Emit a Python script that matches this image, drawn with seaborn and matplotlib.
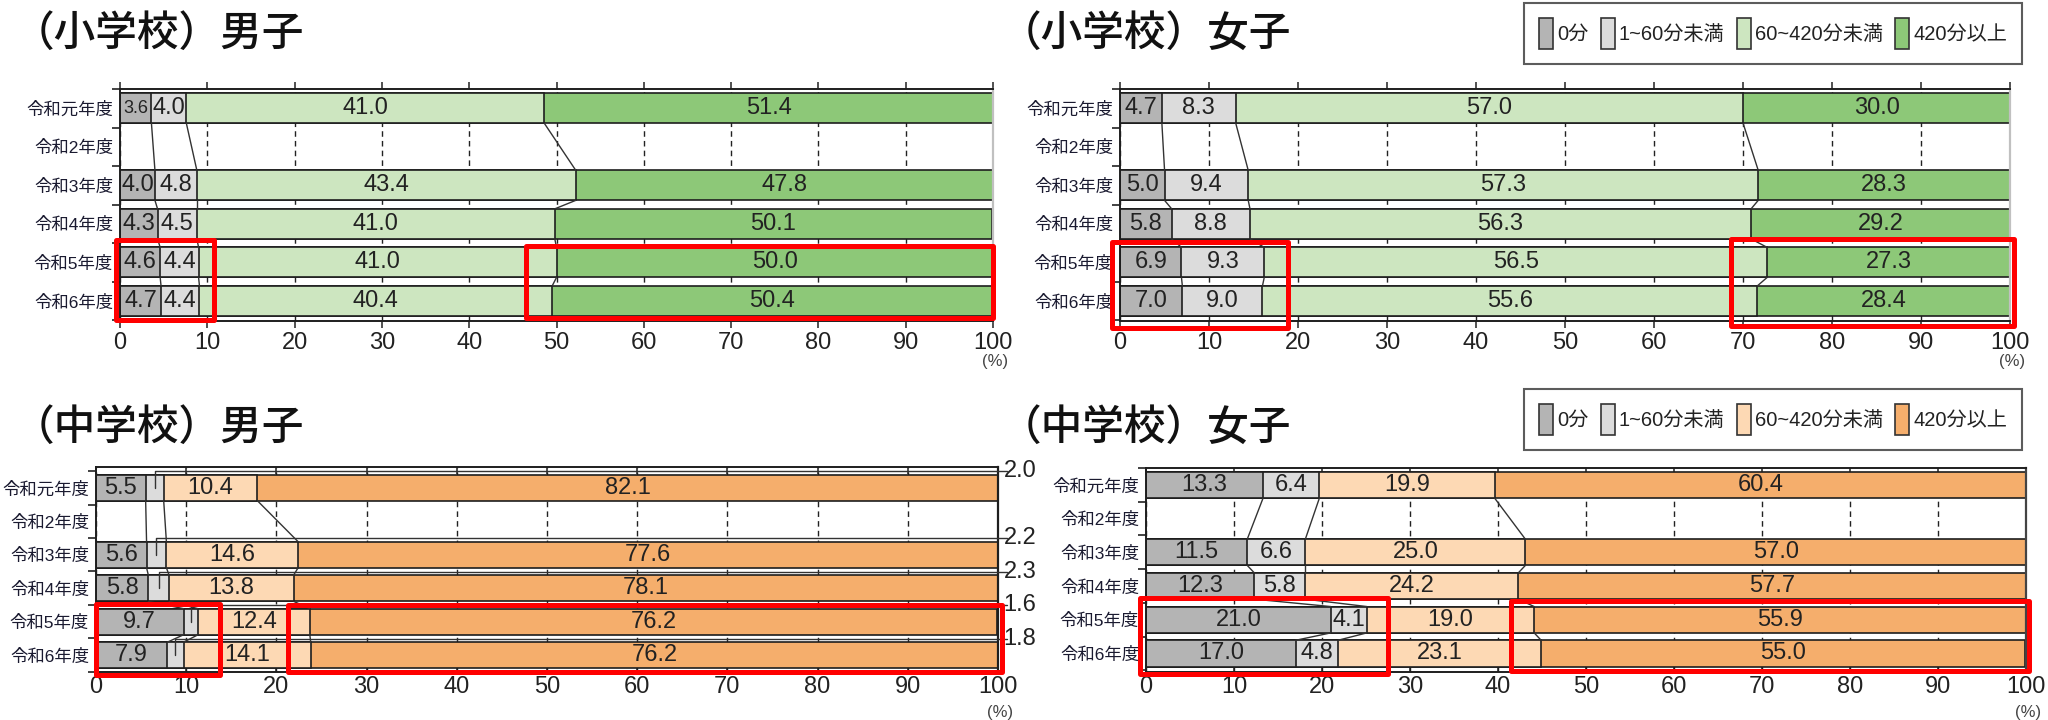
import numpy as np
import pandas as pd
import matplotlib
matplotlib.use("Agg")
import matplotlib.pyplot as plt
import seaborn as sns
from matplotlib.patches import Patch, Rectangle

# ---------------- data ----------------
years = ["令和元年度", "令和2年度", "令和3年度", "令和4年度", "令和5年度", "令和6年度"]
categories = ["0分", "1~60分未満", "60~420分未満", "420分以上"]
xticks = [0, 10, 20, 30, 40, 50, 60, 70, 80, 90, 100]

es_boys_0 = [3.6, np.nan, 4.0, 4.3, 4.6, 4.7]
es_boys_1_60 = [4.0, np.nan, 4.8, 4.5, 4.4, 4.4]
es_boys_60_420 = [41.0, np.nan, 43.4, 41.0, 41.0, 40.4]
es_boys_420 = [51.4, np.nan, 47.8, 50.1, 50.0, 50.4]

es_girls_0 = [4.7, np.nan, 5.0, 5.8, 6.9, 7.0]
es_girls_1_60 = [8.3, np.nan, 9.4, 8.8, 9.3, 9.0]
es_girls_60_420 = [57.0, np.nan, 57.3, 56.3, 56.5, 55.6]
es_girls_420 = [30.0, np.nan, 28.3, 29.2, 27.3, 28.4]

jh_boys_0 = [5.5, np.nan, 5.6, 5.8, 9.7, 7.9]
jh_boys_1_60 = [2.0, np.nan, 2.2, 2.3, 1.6, 1.8]
jh_boys_60_420 = [10.4, np.nan, 14.6, 13.8, 12.4, 14.1]
jh_boys_420 = [82.1, np.nan, 77.6, 78.1, 76.2, 76.2]

jh_girls_0 = [13.3, np.nan, 11.5, 12.3, 21.0, 17.0]
jh_girls_1_60 = [6.4, np.nan, 6.6, 5.8, 4.1, 4.8]
jh_girls_60_420 = [19.9, np.nan, 25.0, 24.2, 19.0, 23.1]
jh_girls_420 = [60.4, np.nan, 57.0, 57.7, 55.9, 55.0]

titles = ["（小学校）男子", "（小学校）女子", "（中学校）男子", "（中学校）女子"]

# highlight boxes (annotation): x0, x1, y0, y1 in data units
hl_es_boys = [(-0.5, 10.8, 3.42, 5.5), (46.5, 100.0, 3.58, 5.45)]
hl_es_girls = [(-0.9, 18.9, 3.47, 5.7), (68.6, 100.4, 3.4, 5.66)]
hl_jh_boys = [(0.0, 13.7, 3.46, 5.6), (21.3, 100.4, 3.49, 5.5)]
hl_jh_girls = [(-0.7, 27.5, 3.35, 5.62), (41.5, 100.3, 3.44, 5.53)]

green_colors = ["#b4b4b4", "#dcdcdc", "#cde6c0", "#8dc878"]
orange_colors = ["#b4b4b4", "#dcdcdc", "#fdd9b4", "#f5ae6c"]

# ---------------- style ----------------
sns.set_theme(style="white")
plt.rcParams["font.family"] = ["Liberation Sans", "Noto Sans CJK JP", "DejaVu Sans"]
TXT = "#222222"
BAR_H = 0.78

fig = plt.figure(figsize=(20.48, 7.2), dpi=100)


def draw_panel(ax, series, colors, ylim, highlights, outside_idx=None,
               right_color="#c0c0c0", top_dir="out"):
    df = pd.DataFrame(np.array(series, dtype=float).T, columns=categories)
    df["year"] = years
    cum = df[categories].cumsum(axis=1, skipna=False)
    for k in reversed(range(4)):
        sns.barplot(x=cum[categories[k]].values, y=df["year"].values, order=years,
                    orient="h", color=colors[k], saturation=1, width=BAR_H,
                    edgecolor="#1e1e1e", linewidth=1.2, errorbar=None, ax=ax,
                    zorder=2)
    ax.set_xlabel("")
    ax.set_ylabel("")
    ax.set_xlim(0, 100)
    ax.set_ylim(*ylim)
    ax.set_axisbelow(True)
    ax.xaxis.grid(True, linestyle=(0, (4, 3)), color="#222222", lw=1.0)
    ax.yaxis.grid(False)

    # ticks
    ax.set_xticks(xticks)
    ax.set_xticklabels([str(t) for t in xticks])
    ax.tick_params(axis="x", which="major", bottom=True, top=True, direction="in",
                   length=5, width=1.1, color="#222", labelsize=17, labelcolor=TXT, pad=3)
    ax.tick_params(axis="x", which="major", top=True, direction=top_dir)
    ax.set_yticks(range(len(years)))
    ax.set_yticklabels(years)
    ax.tick_params(axis="y", which="major", length=0, labelsize=12.5,
                   labelcolor="#1a1a30", pad=5)
    ax.set_yticks(np.arange(-0.5, len(years), 1.0), minor=True)
    ax.tick_params(axis="y", which="minor", left=True, length=6, width=1.2,
                   color="#222", direction="out")

    for s in ["left", "bottom", "top"]:
        ax.spines[s].set_color("#1e1e1e")
        ax.spines[s].set_linewidth(1.4)
    ax.spines["right"].set_color(right_color)
    ax.spines["right"].set_linewidth(1.6)

    # connectors between consecutive bars
    valid = [i for i in range(len(years)) if not np.isnan(cum.iloc[i, 0])]
    for a, b in zip(valid[:-1], valid[1:]):
        for k in range(3):
            ax.plot([cum.iloc[a, k], cum.iloc[b, k]], [a + BAR_H / 2, b - BAR_H / 2],
                    color="#333333", lw=1.0, zorder=3)

    # value labels
    for i in valid:
        vals = df.loc[i, categories].values.astype(float)
        left = 0.0
        for k, v in enumerate(vals):
            c = left + v / 2
            if outside_idx is not None and k == outside_idx:
                yl = i - BAR_H / 2 - 0.1
                ax.plot([c, c, 100.0, 101.0], [i, yl, yl, yl], color="#333333",
                        lw=1.0, zorder=4, clip_on=False)
                ax.text(100.6, yl, f"{v:.1f}", ha="left", va="center", fontsize=17,
                        color=TXT, clip_on=False)
            else:
                fs = 13 if v < 3.9 else 17
                ax.text(c, i, f"{v:.1f}", ha="center", va="center", fontsize=fs,
                        color=TXT, zorder=5)
            left += v

    # highlight boxes
    for (x0, x1, y0, y1) in highlights:
        ax.add_patch(Rectangle((x0, y0), x1 - x0, y1 - y0, fill=False,
                               edgecolor="#ff0000", lw=3.6, joinstyle="round",
                               clip_on=False, zorder=10))

    ax.annotate("(%)", xy=(1, 0), xycoords="axes fraction", xytext=(11, -29),
                textcoords="offset points", ha="right", va="center", fontsize=12,
                color="#444444")


ax_tl = fig.add_axes([0.0586, 0.5542, 0.4263, 0.3222])
ax_tr = fig.add_axes([0.5469, 0.5542, 0.4346, 0.3222])
ax_bl = fig.add_axes([0.0469, 0.0667, 0.4404, 0.2847])
ax_br = fig.add_axes([0.5596, 0.0667, 0.4297, 0.2833])

draw_panel(ax_tl, [es_boys_0, es_boys_1_60, es_boys_60_420, es_boys_420],
           green_colors, (5.52, -0.48), hl_es_boys)
draw_panel(ax_tr, [es_girls_0, es_girls_1_60, es_girls_60_420, es_girls_420],
           green_colors, (5.52, -0.48), hl_es_girls)
draw_panel(ax_bl, [jh_boys_0, jh_boys_1_60, jh_boys_60_420, jh_boys_420],
           orange_colors, (5.5, -0.62), hl_jh_boys, outside_idx=1,
           right_color="#1e1e1e", top_dir="in")
draw_panel(ax_br, [jh_girls_0, jh_girls_1_60, jh_girls_60_420, jh_girls_420],
           orange_colors, (5.55, -0.45), hl_jh_girls, right_color="#444444",
           top_dir="in")

# titles
title_pos = [(0.006, 0.954), (0.488, 0.954), (0.006, 0.407), (0.488, 0.407)]
for t, (x, y) in zip(titles, title_pos):
    fig.text(x, y, t, fontsize=30, ha="left", va="center", color="#111111",
             family=["Noto Sans CJK JP", "DejaVu Sans"], weight="medium")

# legends
for colors, anchor in [(green_colors, (0.9873, 0.9958)), (orange_colors, (0.9873, 0.4597))]:
    handles = [Patch(facecolor=c, edgecolor="#333333", lw=1.2) for c in colors]
    leg = fig.legend(handles, categories, loc="upper right", bbox_to_anchor=anchor,
                     ncol=4, fontsize=14.5, handlelength=0.7, handleheight=2.0,
                     handletextpad=0.2, columnspacing=0.6, borderpad=0.75,
                     frameon=True, fancybox=False, borderaxespad=0)
    leg.get_frame().set_edgecolor("#333333")
    leg.get_frame().set_linewidth(1.5)
    for txt in leg.get_texts():
        txt.set_color(TXT)

fig.savefig("out.png", dpi=100)
